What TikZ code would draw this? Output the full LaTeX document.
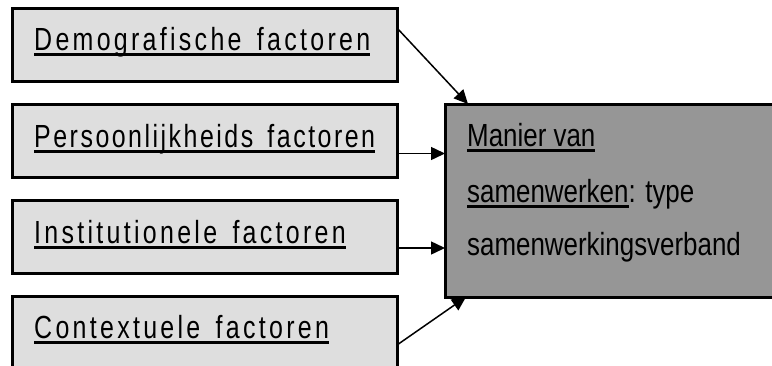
\documentclass[tikz,border=0pt]{standalone}
\usepackage{fontspec}
\setmainfont{Liberation Sans}
\newfontfamily\factorfont[FakeStretch=0.78,LetterSpace=10.3,WordSpace=1.5]{Liberation Sans}
\newfontfamily\tightfactorfont[FakeStretch=0.78,LetterSpace=7.8,WordSpace=1.5]{Liberation Sans}
\newfontfamily\typefont[FakeStretch=0.81]{Liberation Sans}
\usetikzlibrary{arrows.meta,calc}

% underlined text with a rule of chosen depth and thickness
\newcommand\ulthick[1]{\setbox0\hbox{#1}\rlap{\rule[-5.7pt]{\wd0}{3pt}}\box0}
\newcommand\ulthin[1]{\setbox0\hbox{#1}\rlap{\rule[-6pt]{\wd0}{2.6pt}}\box0}

\begin{document}
\begin{tikzpicture}[x=1pt,y=-1pt,
  factorbox/.style={draw=black, line width=3pt, fill=black!13,
    minimum width=385pt, minimum height=73pt, inner sep=0pt, outer sep=0pt,
    anchor=north west},
  typebox/.style={draw=black, line width=3pt, fill=black!41,
    minimum width=360pt, minimum height=193pt, inner sep=0pt, outer sep=0pt,
    anchor=north west},
  factortext/.style={anchor=base west, inner sep=0pt,
    font=\factorfont\fontsize{32}{38}\selectfont},
  typetext/.style={anchor=base west, inner sep=0pt,
    font=\typefont\fontsize{32}{38}\selectfont},
  arr/.style={line width=1.5pt, -{Triangle[length=14pt,width=13pt]}}
]
\useasboundingbox (0,0) rectangle (772,365);
\clip (0,0) rectangle (772,365);

% factor boxes
\node[factorbox] (b1) at (12,8) {};
\node[factorbox] (b2) at (12,104) {};
\node[factorbox] (b3) at (12,200) {};
\node[factorbox, minimum height=80pt] (b4) at (12,296) {};

% outcome box
\node[typebox] (main) at (445,104) {};

% factor labels
\node[factortext] (t1) at (34,50) {\ulthick{Demografische factoren}};
\node[factortext, font=\tightfactorfont\fontsize{32}{38}\selectfont] (t2) at (34,147) {\ulthick{Persoonlijkheids factoren}};
\node[factortext] (t3) at (34,243) {\ulthick{Institutionele factoren}};
\node[factortext] (t4) at (34,338) {\ulthick{Contextuele factoren}};

% outcome label
\node[typetext] (m1) at (467,146) {\ulthin{Manier van}};
\node[typetext] (m2) at (467,202) {\ulthin{samenwerken}: type};
\node[typetext] (m3) at (467,255) {samenwerkingsverband};

% connectors
\coordinate (s1) at ([yshift=16.5pt]b1.east);
\coordinate (s2) at ([yshift=-13pt]b2.east);
\coordinate (s3) at ([yshift=-11.5pt]b3.east);
\coordinate (s4) at ([yshift=-9pt]b4.east);

\draw[arr] (s1) -- ([xshift=23pt]main.north west);
\draw[arr] (s2) -- (s2 -| main.west);
\draw[arr] (s3) -- (s3 -| main.west);
\draw[arr] (s4) -- ([xshift=21pt]main.south west);
\end{tikzpicture}
\end{document}
